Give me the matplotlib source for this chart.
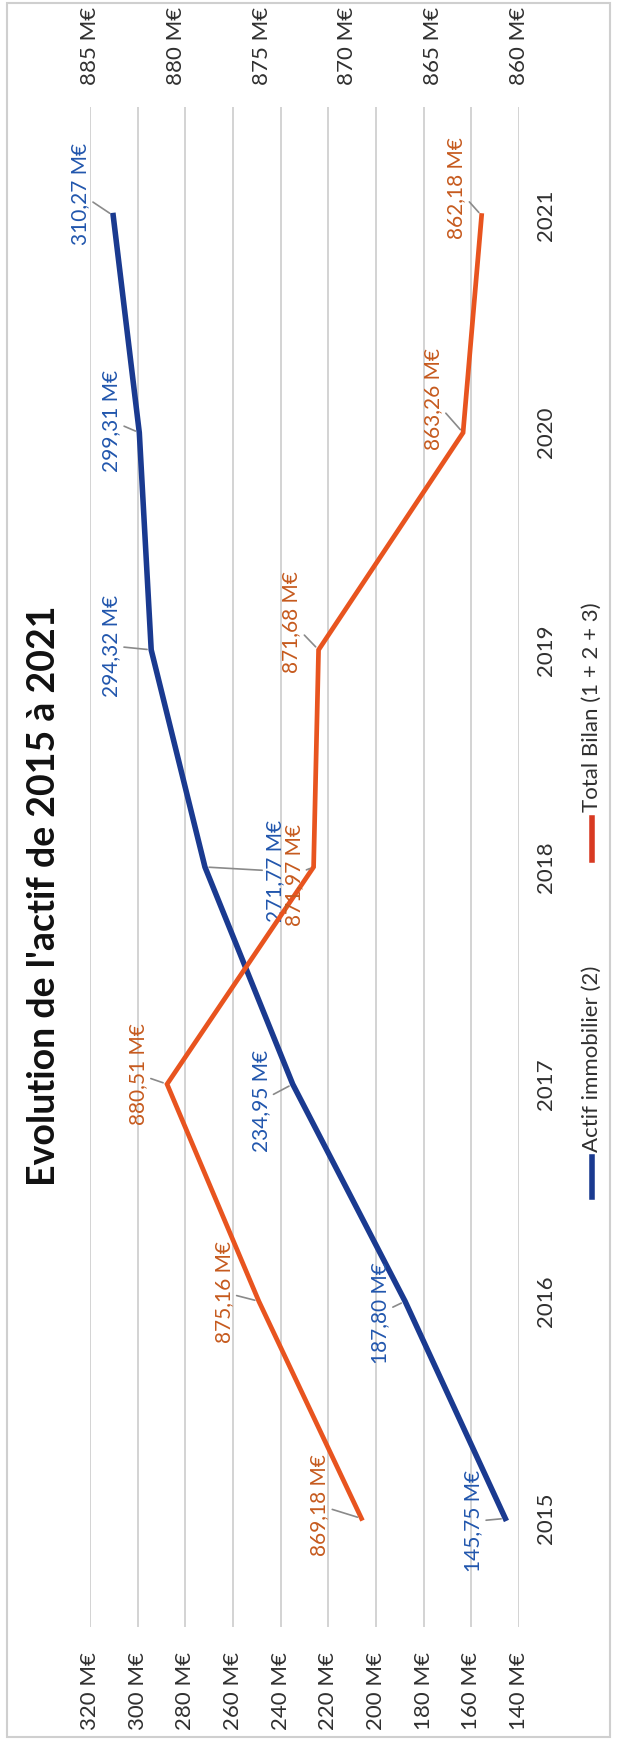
# Evolution de l'actif 2015-2021 (chart drawn turned a quarter turn, as in the scan)

import matplotlib.pyplot as plt
from matplotlib.lines import Line2D
from matplotlib.patches import Rectangle

plt.rcParams['font.family'] = ['Lato', 'DejaVu Sans']

years = [2015, 2016, 2017, 2018, 2019, 2020, 2021]
actif_immo = [145.75, 187.80, 234.95, 271.77, 294.32, 299.31, 310.27]
total_bilan = [869.18, 875.16, 880.51, 871.97, 871.68, 863.26, 862.18]
left_ticks = [140, 160, 180, 200, 220, 240, 260, 280, 300, 320]
right_ticks = [860, 865, 870, 875, 880, 885]
title = "Evolution de l'actif de 2015 à 2021"
name_immo = 'Actif immobilier (2)'
name_bilan = 'Total Bilan (1 + 2 + 3)'

# label offsets, pixels in the picture (x right, y down)
blue_off = [(-32, 3), (-25, 12), (-32, 17), (70, 4), (-40, -4), (-28, -12), (-33, -22)]
orange_off = [(-42, -13), (-35, -9), (-29, -10), (-20, 8), (-27, -28), (-30, -34), (-25, -28)]

BLUE = '#1a3a90'
BLUE_TXT = '#2156ad'
ORANGE = '#e8541f'
ORANGE_TXT = '#c65a1e'
TICK = '#303030'

W, H = 617, 1746


def fmt(v):
    return ('%.2f' % v).replace('.', ',') + ' M€'


def fx(px):
    return px / W


def fy(py):
    return 1 - py / H


fig = plt.figure(figsize=(W / 100, H / 100), dpi=100)
ax = fig.add_axes([fx(90), fy(1627), fx(519) - fx(90), fy(107) - fy(1627)])
ax2 = ax.twiny()

ax.set_xlim(320, 140)
ax.set_ylim(2014.5, 2021.5)
ax2.set_xlim(885, 860)

ax.set_xticks(left_ticks)
ax.set_xticklabels(['%d M€' % t for t in left_ticks])
ax.tick_params(axis='x', length=0, pad=18, labelsize=16, labelcolor=TICK, labelrotation=90)
ax.yaxis.tick_right()
ax.set_yticks(years)
ax.set_yticklabels([str(y) for y in years])
ax.tick_params(axis='y', length=0, pad=12, labelsize=16, labelcolor=TICK, labelrotation=90)
for lab in ax.get_yticklabels():
    lab.set_va('center')

ax2.set_xticks(right_ticks)
ax2.set_xticklabels(['%d M€' % t for t in right_ticks])
ax2.tick_params(axis='x', length=0, pad=16, labelsize=16, labelcolor=TICK, labelrotation=90)

ax.grid(axis='x', color='#d3d3d3', lw=1.4)
ax.set_axisbelow(True)
for a in (ax, ax2):
    for s in a.spines.values():
        s.set_visible(False)

ax.plot(actif_immo, years, color=BLUE, lw=4, solid_joinstyle='miter')
ax2.plot(total_bilan, years, color=ORANGE, lw=3.4, solid_joinstyle='miter')

for a, vals, offs, col in ((ax, actif_immo, blue_off, BLUE_TXT), (ax2, total_bilan, orange_off, ORANGE_TXT)):
    for v, y, (dx, dy) in zip(vals, years, offs):
        a.annotate(fmt(v), xy=(v, y), xytext=(dx, -dy), textcoords='offset pixels',
                   rotation=90, ha='center', va='center', fontsize=15, color=col,
                   arrowprops=dict(arrowstyle='-', color='#8a8a8a', lw=1.2,
                                   shrinkA=0, shrinkB=3))

# title and legend, turned like the rest
fig.text(fx(44), fy(896), title, rotation=90, ha='center', va='center',
         fontsize=27, fontweight='bold', color='#111111')

fig.add_artist(Line2D([fx(592), fx(592)], [fy(1197), fy(1157)], color=BLUE, lw=4,
                      transform=fig.transFigure))
fig.text(fx(592), fy(1152), name_immo, rotation=90, ha='center', va='bottom',
         fontsize=16, color=TICK)
fig.add_artist(Line2D([fx(592), fx(592)], [fy(860), fy(818)], color='#d83a22', lw=4,
                      transform=fig.transFigure))
fig.text(fx(592), fy(812), name_bilan, rotation=90, ha='center', va='bottom',
         fontsize=16, color=TICK)

fig.add_artist(Rectangle((fx(7), fy(1737)), fx(610) - fx(7), fy(3) - fy(1737), fill=False,
                         edgecolor='#cfcfcf', lw=1.5, transform=fig.transFigure))

fig.savefig('out.png', dpi=100)
